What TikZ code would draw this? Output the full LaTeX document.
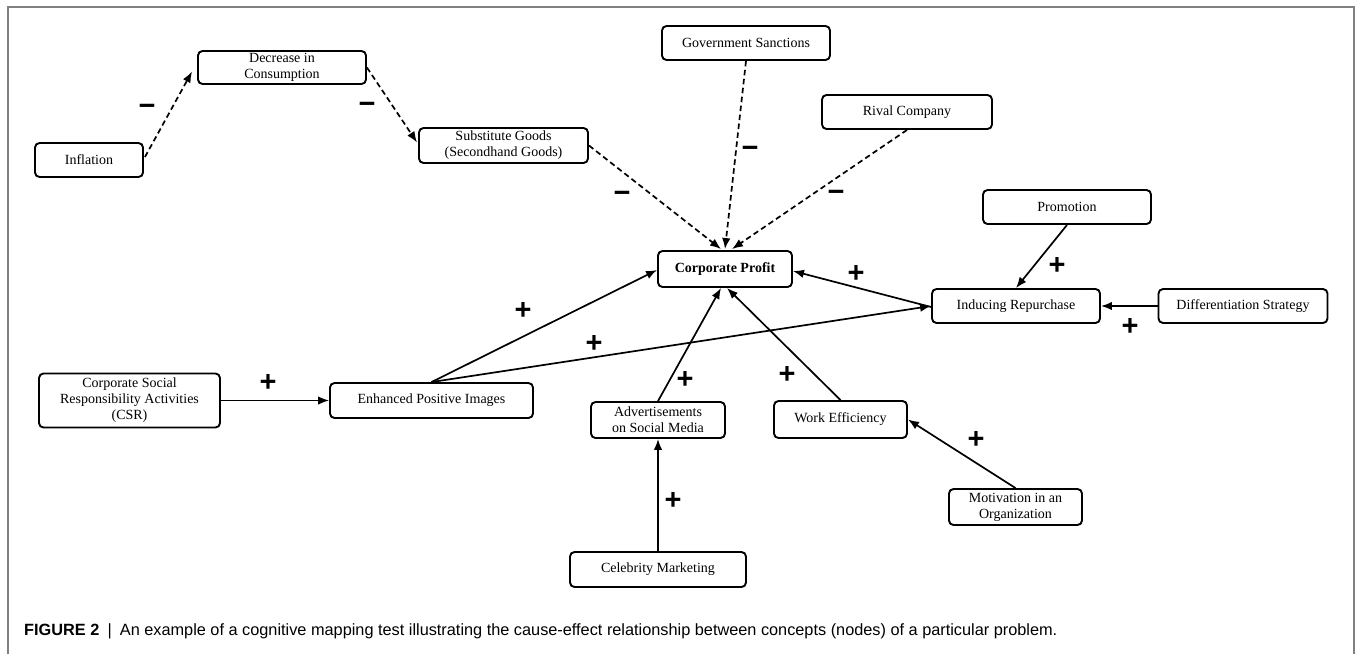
\documentclass[tikz,border=0pt]{standalone}
\usepackage{fontspec}
\setmainfont{Liberation Serif}
\newfontfamily\capfont{Liberation Sans}
\usetikzlibrary{arrows.meta,calc}
\begin{document}
\begin{tikzpicture}[x=1pt,y=-1pt,
  concept/.style={draw, line width=1.9pt, rounded corners=4.5pt, align=center, inner sep=0pt, font=\fontsize{14}{16}\selectfont},
  poslink/.style={-{Latex[length=11pt,width=8.5pt]}, line width=1.7pt},
  neglink/.style={poslink, dash pattern=on 5.5pt off 3.5pt},
  sign/.style={font=\capfont\bfseries\fontsize{29}{29}\selectfont, inner sep=0pt},
  frameline/.style={draw=gray, line width=1.5pt}]
\useasboundingbox (0,0) rectangle (1356,654);
% frame
\draw[frameline] (8,654) -- (8,7) -- (1354,7) -- (1354,654);

% nodes
\node[concept, minimum width=108pt, minimum height=34pt] (infl) at (89,160) {Inflation};
\node[concept, minimum width=168pt, minimum height=33pt] (dec) at (282,67.5) {Decrease in\\Consumption};
\node[concept, minimum width=169pt, minimum height=35pt] (sub) at (503.5,145.5) {Substitute Goods\\(Secondhand Goods)};
\node[concept, minimum width=168pt, minimum height=34pt] (gov) at (746,43) {Government Sanctions};
\node[concept, minimum width=170pt, minimum height=34pt] (rival) at (907,112) {Rival Company};
\node[concept, minimum width=134pt, minimum height=36pt, font=\fontsize{14}{16}\selectfont\bfseries] (cp) at (725,269) {Corporate Profit};
\node[concept, minimum width=168pt, minimum height=34pt] (promo) at (1067,207) {Promotion};
\node[concept, minimum width=168pt, minimum height=34pt] (ir) at (1016,306) {Inducing Repurchase};
\node[concept, minimum width=169pt, minimum height=34pt] (diff) at (1243,306) {Differentiation Strategy};
\node[concept, minimum width=181pt, minimum height=54pt] (csr) at (129.5,400.5) {Corporate Social\\Responsibility Activities\\(CSR)};
\node[concept, minimum width=203pt, minimum height=35pt] (epi) at (431.5,400.5) {Enhanced Positive Images};
\node[concept, minimum width=134pt, minimum height=36pt] (ads) at (658,420) {Advertisements\\on Social Media};
\node[concept, minimum width=133pt, minimum height=37pt] (we) at (840.5,419.5) {Work Efficiency};
\node[concept, minimum width=133pt, minimum height=36pt] (mot) at (1015.5,507) {Motivation in an\\Organization};
\node[concept, minimum width=176pt, minimum height=35pt] (cel) at (658,569.5) {Celebrity Marketing};

% negative (dashed) links
\draw[neglink] ($(infl.east)+(1,-3)$) -- ($(dec.west)+(-5,4)$);
\draw[neglink] (dec.east) -- ($(sub.west)+(-1,-3)$);
\draw[neglink] (sub.east) -- ($(cp.north)+(-4,-1)$);
\draw[neglink] (gov.south) -- ($(cp.north)+(0,-1)$);
\draw[neglink] (rival.south) -- ($(cp.north)+(7,-1)$);

% positive links
\draw[poslink] (epi.north) -- ($(cp.west)+(0,1)$);
\draw[poslink] (epi.north) -- (ir.west);
\draw[poslink] ($(ir.west)+(0,1)$) -- ($(cp.east)+(0,2)$);
\draw[poslink] (ads.north) -- ($(cp.south)+(-4,0)$);
\draw[poslink] (we.north) -- ($(cp.south)+(2,0)$);
\draw[poslink] (cel.north) -- (ads.south);
\draw[poslink] (mot.north) -- (we.east);
\draw[poslink] (promo.south) -- (ir.north);
\draw[poslink] (diff.west) -- (ir.east);
\draw[poslink] (csr.east) -- (epi.west);

% signs
\node[sign] (m1) at (147,110) {−};
\node[sign] (m2) at (367,108) {−};
\node[sign] (m3) at (622,197) {−};
\node[sign] (m4) at (750,152) {−};
\node[sign] (m5) at (836,196) {−};
\node[sign] (p1) at (523,311) {+};
\node[sign] (p2) at (594,344) {+};
\node[sign] (p3) at (856,274) {+};
\node[sign] (p4) at (685,380) {+};
\node[sign] (p5) at (787,375) {+};
\node[sign] (p6) at (673,501) {+};
\node[sign] (p7) at (976,440) {+};
\node[sign] (p8) at (1057,266) {+};
\node[sign] (p9) at (1130,327) {+};
\node[sign] (p10) at (268,383) {+};

% caption
\node[anchor=base west, inner sep=0pt, font=\capfont\fontsize{16.3}{19}\selectfont] (cap) at (24,635)
  {{\bfseries FIGURE 2}\enspace|\enspace An example of a cognitive mapping test illustrating the cause-effect relationship between concepts (nodes) of a particular problem.};
\end{tikzpicture}
\end{document}
